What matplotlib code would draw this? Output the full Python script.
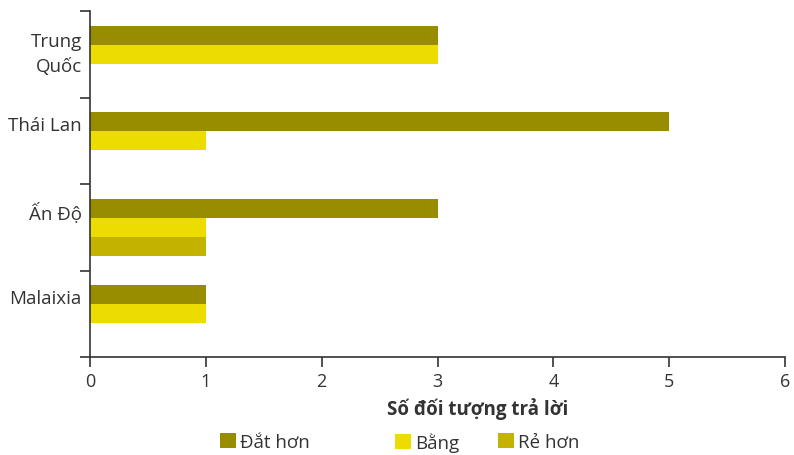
import matplotlib
matplotlib.use("Agg")
import matplotlib.pyplot as plt
import numpy as np

plt.rcParams['font.family'] = ['Open Sans', 'DejaVu Sans']

categories = ["Trung\nQuốc", "Thái Lan", "Ấn Độ", "Malaixia"]
series_names = ["Đắt hơn", "Bằng", "Rẻ hơn"]
dat_hon = [3, 5, 3, 1]
bang = [3, 1, 1, 1]
re_hon = [0, 0, 1, 0]
x_ticks = [0, 1, 2, 3, 4, 5, 6]
x_label = "Số đối tượng trả lời"

colors = ["#988C00", "#ECDC00", "#C3B300"]
ink = "#333333"

fig = plt.figure(figsize=(7.94, 4.56), dpi=100)
ax = fig.add_axes([90 / 794, 1 - 358 / 456, 695 / 794, 346 / 456])

y = np.arange(len(categories))
h = 0.22
handles = []
for k, (vals, c) in enumerate(zip([dat_hon, bang, re_hon], colors)):
    vals = np.array(vals, dtype=float)
    bars = ax.barh(y + (k - 1) * h, vals, height=h, color=c,
                   edgecolor="none", label=series_names[k])
    handles.append(bars)

ax.set_xlim(0, 6)
ax.set_ylim(len(categories) - 0.5, -0.5)
ax.set_xticks(x_ticks)
ax.set_xticklabels([str(t) for t in x_ticks], fontsize=13, color=ink)
ax.set_yticks(np.arange(len(categories) + 1) - 0.5)
ax.set_yticklabels([])
ax.tick_params(axis='both', direction='out', length=7, width=1.2, color=ink)
ax.tick_params(axis='x', pad=4)

for s in ["top", "right"]:
    ax.spines[s].set_visible(False)
for s in ["left", "bottom"]:
    ax.spines[s].set_color(ink)
    ax.spines[s].set_linewidth(1.2)

# category names sit beside the upper bars of each group
for i, name in enumerate(categories):
    off = -0.01 if "\n" in name else -0.18
    ax.annotate(name, xy=(0, i + off), xycoords=ax.get_yaxis_transform(),
                xytext=(-6, 0), textcoords='offset points',
                ha='right', va='center', fontsize=13.5, color=ink,
                linespacing=1.45)

ax.set_xlabel(x_label, fontsize=13.5, fontweight='bold', color=ink, labelpad=5)
ax.xaxis.set_label_coords((478 - 90) / 695, -0.115)

# legend entries placed individually along the bottom
legend_x = [220 / 794, 395 / 794, 498 / 794]
for hd, name, lx in zip(handles, series_names, legend_x):
    lg = fig.legend([hd], [name], loc='center left', bbox_to_anchor=(lx, 1 - 443 / 456),
                    frameon=False, fontsize=13.5, handlelength=0.85, handleheight=0.85,
                    handletextpad=0.2, borderaxespad=0, borderpad=0)
    for t in lg.get_texts():
        t.set_color(ink)

fig.savefig("out.png", dpi=100)
